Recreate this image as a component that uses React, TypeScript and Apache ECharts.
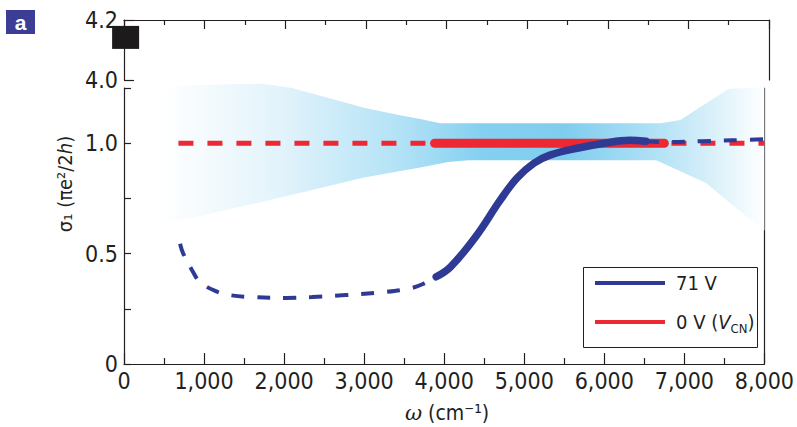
import React, { useEffect, useRef } from 'react';
import * as echarts from 'echarts';

const FONT = "'Liberation Sans Narrow','Arial Narrow','DejaVu Sans Condensed',sans-serif";
const INK = '#231f20';
const BLUE = '#2f3a95';
const RED = '#ed2833';

// Axis ranges / ticks
const xRange = { min: 0, max: 8000, interval: 1000 };
const yLowRange = { min: 0, max: 1.25, interval: 0.25 };
const yHighRange = { min: 4.0, max: 4.2, interval: 0.2 };
const yLowLabels: Record<string, string> = { '0': '0', '0.5': '0.5', '1': '1.0' };

// Shaded uncertainty band (omega, sigma)
const bandUpper: [number, number][] = [
  [450, 1.255], [1000, 1.265], [1700, 1.27], [2100, 1.25], [2600, 1.2], [3000, 1.16],
  [3400, 1.13], [3700, 1.11], [3950, 1.09], [6700, 1.09], [6950, 1.105], [7250, 1.175],
  [7550, 1.245], [8000, 1.255],
];
const bandLower: [number, number][] = [
  [450, 0.63], [1800, 0.74], [3000, 0.845], [3700, 0.89], [4050, 0.915], [4300, 0.923],
  [6650, 0.923], [7270, 0.82], [7600, 0.72], [8000, 0.605],
];

// 0 V (VCN) trace
const redDashed: [number, number][] = [[680, 1.0], [8000, 1.0]];
const redSolid: [number, number][] = [[3880, 1.0], [6750, 1.0]];

// 71 V trace
const blueLowDashed: [number, number][] = [
  [700, 0.545], [740, 0.5], [850, 0.425], [950, 0.372], [1170, 0.326], [1320, 0.312],
  [1600, 0.303], [2020, 0.299], [2350, 0.303], [2770, 0.312], [3260, 0.326], [3590, 0.344],
  [3750, 0.365], [3900, 0.395],
];
const blueSolid: [number, number][] = [
  [3900, 0.395], [4080, 0.44], [4400, 0.58], [4700, 0.742], [4910, 0.842], [5120, 0.909],
  [5320, 0.946], [5660, 0.977], [6000, 1.0], [6320, 1.013], [6520, 1.009],
];
const blueHighDashed: [number, number][] = [
  [6520, 1.009], [6770, 1.005], [7230, 1.009], [7600, 1.013], [8000, 1.018],
];

// Point on the broken upper axis
const upperPoint: [number, number][] = [[20, 4.142]];

const legendNames = ['71 V', '0 V (VCN)'];

function buildOption(): any {
  const bandGradient = new echarts.graphic.LinearGradient(0, 0, 1, 0, [
    { offset: 0, color: '#ffffff' },
    { offset: 0.2, color: '#e2f3fb' },
    { offset: 0.4, color: '#b2e2f6' },
    { offset: 0.53, color: '#85d0f0' },
    { offset: 0.67, color: '#7fcdee' },
    { offset: 0.8, color: '#aadef5' },
    { offset: 0.9, color: '#d3eef9' },
    { offset: 1, color: '#ffffff' },
  ]);

  const xAxisBase = {
    type: 'value',
    ...xRange,
    splitLine: { show: false },
    axisLine: { show: true, onZero: false, lineStyle: { color: INK, width: 1.2 } },
  };
  const lineOnlyY = {
    type: 'value',
    position: 'right',
    axisLine: { show: true, onZero: false, lineStyle: { color: INK, width: 1.2 } },
    axisTick: { show: false },
    axisLabel: { show: false },
    splitLine: { show: false },
  };

  return {
    animation: false,
    backgroundColor: '#ffffff',
    textStyle: { fontFamily: FONT, color: INK },
    grid: [
      { left: 124, right: 28, top: 20, height: 60 },
      { left: 124, right: 28, top: 88, height: 276 },
    ],
    xAxis: [
      {
        ...xAxisBase,
        gridIndex: 0,
        position: 'top',
        axisTick: { show: true, inside: true, length: 9, lineStyle: { color: INK, width: 1.2 } },
        minorTick: { show: true, splitNumber: 2, length: 5, lineStyle: { color: INK, width: 1.2 } },
        axisLabel: { show: false },
      },
      {
        ...xAxisBase,
        gridIndex: 1,
        position: 'bottom',
        axisTick: { show: true, inside: true, length: 11, lineStyle: { color: INK, width: 1.2 } },
        minorTick: { show: true, splitNumber: 2, length: 6, lineStyle: { color: INK, width: 1.2 } },
        axisLabel: {
          show: true,
          margin: 5,
          fontFamily: FONT,
          fontSize: 23,
          color: INK,
          formatter: (v: number) => v.toLocaleString('en-US'),
        },
      },
    ],
    yAxis: [
      {
        type: 'value',
        gridIndex: 0,
        position: 'left',
        ...yHighRange,
        splitLine: { show: false },
        axisLine: { show: true, onZero: false, lineStyle: { color: INK, width: 1.2 } },
        axisTick: { show: true, inside: true, length: 10, lineStyle: { color: INK, width: 1.2 } },
        axisLabel: {
          margin: 6,
          fontFamily: FONT,
          fontSize: 23,
          color: INK,
          padding: [0, 0, 12, 0],
          formatter: (v: number) => v.toFixed(1),
        },
      },
      { ...lineOnlyY, gridIndex: 0, ...yHighRange },
      {
        type: 'value',
        gridIndex: 1,
        position: 'left',
        ...yLowRange,
        splitLine: { show: false },
        axisLine: { show: true, onZero: false, lineStyle: { color: INK, width: 1.2 } },
        axisTick: { show: true, inside: true, length: 7, lineStyle: { color: INK, width: 1.2 } },
        axisLabel: {
          margin: 6,
          fontFamily: FONT,
          fontSize: 23,
          color: INK,
          formatter: (v: number) => yLowLabels[String(v)] ?? '',
        },
      },
      { ...lineOnlyY, gridIndex: 1, ...yLowRange },
    ],
    legend: {
      data: legendNames,
      orient: 'vertical',
      left: 583,
      top: 267,
      padding: [3, 3, 11, 12],
      itemGap: 13,
      itemWidth: 70,
      itemHeight: 4,
      icon: 'rect',
      borderWidth: 0,
      backgroundColor: 'transparent',
      itemStyle: { borderWidth: 0 },
      formatter: (name: string) => (name === '0 V (VCN)' ? '0 V ({i|V}{sub|CN})' : name),
      textStyle: {
        fontFamily: FONT,
        fontSize: 20,
        color: INK,
        lineHeight: 26,
        padding: [0, 0, 0, 6],
        rich: {
          i: { fontFamily: FONT, fontSize: 20, fontStyle: 'italic', color: INK, lineHeight: 26 },
          sub: { fontFamily: FONT, fontSize: 13, color: INK, lineHeight: 14, verticalAlign: 'bottom' },
        },
      },
    },
    graphic: [
      {
        type: 'rect', z: 3, silent: true,
        shape: { x: 583.5, y: 267.5, width: 174, height: 80 },
        style: { fill: '#ffffff', stroke: INK, lineWidth: 1 },
      },
      { type: 'rect', shape: { x: 6, y: 10, width: 29, height: 24 }, style: { fill: '#3c3d94' } },
      {
        type: 'text', x: 20.5, y: 22,
        style: {
          text: 'a', fill: '#ffffff', font: `bold 21px 'Liberation Sans','DejaVu Sans',sans-serif`,
          align: 'center', verticalAlign: 'middle',
        },
      },
      {
        type: 'text', x: 65, y: 184, rotation: Math.PI / 2,
        style: {
          text: 'σ₁ (πe²/2{h|h})',
          font: `20px ${FONT}`,
          fill: INK,
          align: 'center',
          verticalAlign: 'middle',
          rich: { h: { fontFamily: FONT, fontSize: 20, fontStyle: 'italic', fill: INK } },
        },
      },
      {
        type: 'text', x: 447, y: 413,
        style: {
          text: '{w|ω} (cm⁻¹)',
          font: `21px ${FONT}`,
          fill: INK,
          align: 'center',
          verticalAlign: 'middle',
          rich: { w: { fontFamily: 'DejaVu Serif, serif', fontSize: 21, fontStyle: 'italic', fill: INK } },
        },
      },
    ],
    series: [
      {
        name: 'band',
        type: 'custom',
        xAxisIndex: 1,
        yAxisIndex: 2,
        silent: true,
        z: 1,
        data: [bandUpper[0]],
        renderItem: (_params: any, api: any) => {
          const pts = [
            ...bandUpper.map((p) => api.coord(p)),
            ...bandLower.slice().reverse().map((p) => api.coord(p)),
          ];
          return { type: 'polygon', shape: { points: pts }, style: { fill: bandGradient } };
        },
      },
      {
        name: '0 V (VCN) extrapolated',
        type: 'line',
        xAxisIndex: 1,
        yAxisIndex: 2,
        data: redDashed,
        showSymbol: false,
        z: 3,
        color: RED,
        lineStyle: { color: RED, width: 5, type: [15, 14] },
      },
      {
        name: '0 V (VCN)',
        type: 'line',
        xAxisIndex: 1,
        yAxisIndex: 2,
        data: redSolid,
        showSymbol: false,
        z: 4,
        color: RED,
        itemStyle: { color: RED },
        lineStyle: { color: RED, width: 9, cap: 'round' },
      },
      {
        name: '71 V extrapolated low',
        type: 'line',
        xAxisIndex: 1,
        yAxisIndex: 2,
        data: blueLowDashed,
        smooth: 0.4,
        showSymbol: false,
        z: 5,
        color: BLUE,
        lineStyle: { color: BLUE, width: 4, type: [13, 13] },
      },
      {
        name: '71 V extrapolated high',
        type: 'line',
        xAxisIndex: 1,
        yAxisIndex: 2,
        data: blueHighDashed,
        smooth: 0.4,
        showSymbol: false,
        z: 5,
        color: BLUE,
        lineStyle: { color: BLUE, width: 4, type: [13, 13] },
      },
      {
        name: '71 V',
        type: 'line',
        xAxisIndex: 1,
        yAxisIndex: 2,
        data: blueSolid,
        smooth: 0.4,
        showSymbol: false,
        z: 6,
        color: BLUE,
        itemStyle: { color: BLUE },
        lineStyle: { color: BLUE, width: 7.5, cap: 'round' },
      },
      {
        name: 'upper point',
        type: 'scatter',
        xAxisIndex: 0,
        yAxisIndex: 0,
        data: upperPoint,
        symbol: 'rect',
        symbolSize: [27, 23],
        clip: false,
        z: 6,
        itemStyle: { color: '#1c1a1b', opacity: 1 },
      },
    ],
  };
}

export default function App() {
  const ref = useRef<HTMLDivElement>(null);
  useEffect(() => {
    if (!ref.current) return;
    const chart = echarts.init(ref.current, null, { renderer: 'svg' });
    chart.setOption(buildOption());
    return () => chart.dispose();
  }, []);
  return (
    <div
      ref={ref}
      style={{ position: 'absolute', left: 0, top: 0, width: 797, height: 427, background: '#fff' }}
    />
  );
}
